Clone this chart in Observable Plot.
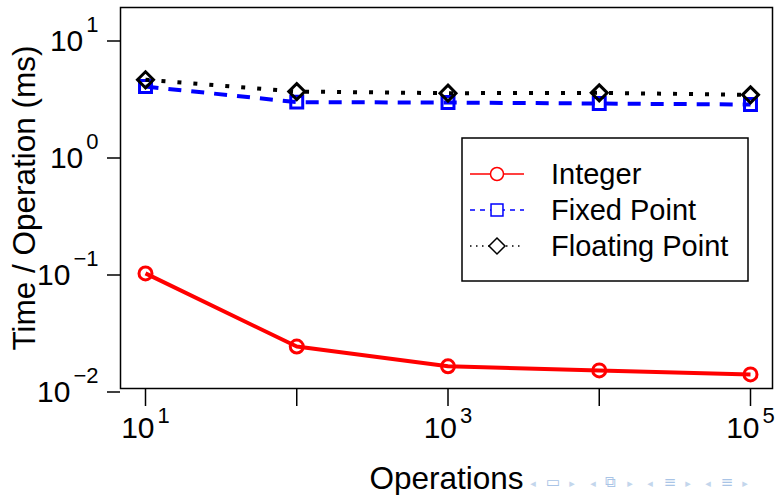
<!DOCTYPE html>
<html><head><meta charset="utf-8">
<script src="https://cdn.jsdelivr.net/npm/d3@7"></script>
<script src="https://cdn.jsdelivr.net/npm/@observablehq/plot@0.6"></script>
<style>
body{margin:0;background:#fff;}
#chart{position:relative;width:775px;height:495px;overflow:hidden;}
</style>
</head><body><div id="chart"></div>
<script>
// ---- data ----
const operations = [10, 100, 1000, 10000, 100000];
const seriesNames = ["Integer", "Fixed Point", "Floating Point"];
const integerTimes = [0.089, 0.0211, 0.0143, 0.0132, 0.0122];
const fixedTimes = [3.52, 2.59, 2.57, 2.52, 2.47];
const floatTimes = [4.02, 3.19, 3.09, 3.11, 2.99];
const xTicks = [10, 100, 1000, 10000, 100000];
const xTickLabels = ["10^1", "", "10^3", "", "10^5"];
const yTicks = [0.01, 0.1, 1, 10];
const yTickLabels = ["10^\u22122", "10^\u22121", "10^0", "10^1"];
const xLabel = "Operations";
const yLabel = "Time / Operation (ms)";
const navGlyphs = ["\u25C2", "\u25AD", "\u25B8", "\u25C2", "\u29C9", "\u25B8", "\u25C2", "\u2261", "\u25B8", "\u25C2", "\u2261", "\u25B8"];

// ---- styles ----
const colors = ["#ff0000", "#0000ff", "#000000"];
const dashes = [null, "13,10", "4,12"];
const legendDashes = [null, "5,5", "1.5,4.5"];
const symbols = ["circle", "square2", "diamond2"];
const symR = [6.5, 7.6, 7.2];
const FONT = "'Liberation Sans', Arial, Helvetica, sans-serif";

const valueSets = [integerTimes, fixedTimes, floatTimes];
const rows = [];
seriesNames.forEach((name, s) => operations.forEach((op, i) => rows.push({series: name, s, op, t: valueSets[s][i]})));

const marks = [Plot.frame({stroke: "black", strokeWidth: 1.5})];
seriesNames.forEach((name, s) => {
  const d = rows.filter(r => r.s === s);
  marks.push(Plot.line(d, {x: "op", y: "t", stroke: colors[s], strokeWidth: 4, strokeDasharray: dashes[s] || undefined, strokeLinecap: "butt"}));
  marks.push(Plot.dot(d, {x: "op", y: "t", stroke: colors[s], strokeWidth: 3, fill: "none", symbol: symbols[s], r: symR[s]}));
});
marks.push(Plot.axisX({ticks: xTicks, tickFormat: (v) => xTickLabels[xTicks.indexOf(v)], tickSize: 18, tickPadding: 10, fontSize: 30, strokeWidth: 1.5, label: null}));
marks.push(Plot.axisX({ticks: [], tickSize: 0, fontSize: 31.5, label: xLabel, labelAnchor: "center", labelArrow: "none", labelOffset: 100}));
marks.push(Plot.axisY({ticks: yTicks, tickFormat: (v) => yTickLabels[yTicks.indexOf(v)], tickSize: 13, tickPadding: 9, fontSize: 30, dy: 7.5, strokeWidth: 1.5, label: null}));
marks.push(Plot.axisY({ticks: [], tickSize: 0, fontSize: 31.5, label: yLabel, labelAnchor: "center", labelArrow: "none", labelOffset: 108}));

const chart = Plot.plot({
  width: 775, height: 495,
  marginLeft: 120, marginRight: 3, marginTop: 7, marginBottom: 107,
  style: {fontFamily: FONT, fontSize: "30px", background: "white", color: "black", overflow: "visible"},
  x: {type: "log", domain: [10, 1e5], range: [145, 750]},
  y: {type: "log", domain: [0.01, 10], range: [384, 33]},
  marks
});
document.getElementById("chart").appendChild(chart);
const svg = d3.select(chart);

// superscript exponents in tick labels
function supify(sel, rise) {
  sel.each(function () {
    const t = d3.select(this);
    const s = t.text();
    const i = s.indexOf("^");
    if (i < 0) return;
    t.text(null);
    t.append("tspan").text(s.slice(0, i));
    t.append("tspan").attr("dy", -rise).attr("dx", 3).attr("font-size", 22).text(s.slice(i + 1));
  });
}
supify(svg.selectAll('g[aria-label="x-axis tick label"] text'), 15);
supify(svg.selectAll('g[aria-label="y-axis tick label"] text'), 18.5);

// legend
const lg = svg.append("g").attr("font-family", FONT).attr("text-anchor", "start");
lg.append("rect").attr("x", 462).attr("y", 138).attr("width", 286).attr("height", 143)
  .attr("fill", "white").attr("stroke", "black").attr("stroke-width", 1.5);
const d3sym = [d3.symbolCircle, d3.symbolSquare2, d3.symbolDiamond2];
seriesNames.forEach((name, s) => {
  const cy = 174 + s * 36;
  lg.append("line").attr("x1", 470).attr("x2", 524).attr("y1", cy).attr("y2", cy)
    .attr("stroke", colors[s]).attr("stroke-width", 1.5).attr("stroke-dasharray", legendDashes[s]);
  lg.append("path").attr("transform", `translate(497,${cy})`)
    .attr("d", d3.symbol(d3sym[s], Math.PI * symR[s] * symR[s])())
    .attr("fill", "white").attr("stroke", colors[s]).attr("stroke-width", 1.5);
  lg.append("text").attr("x", 551).attr("y", cy + 10).attr("font-size", 29).attr("fill", "black")
    .attr("text-anchor", "start").text(name);
});

// beamer navigation symbols
const navX = [533, 553, 572, 593, 610, 630, 650, 670, 688, 708, 727, 745];
const ng = svg.append("g").attr("font-family", "DejaVu Sans").attr("text-anchor", "middle");
navGlyphs.forEach((g, i) => {
  const arrow = (i % 3) !== 1;
  ng.append("text").attr("x", navX[i]).attr("y", 487).attr("font-size", arrow ? 11 : 15)
    .attr("fill", arrow ? "#c3d6ec" : "#a9c4e6").text(g);
});
</script>
</body></html>
